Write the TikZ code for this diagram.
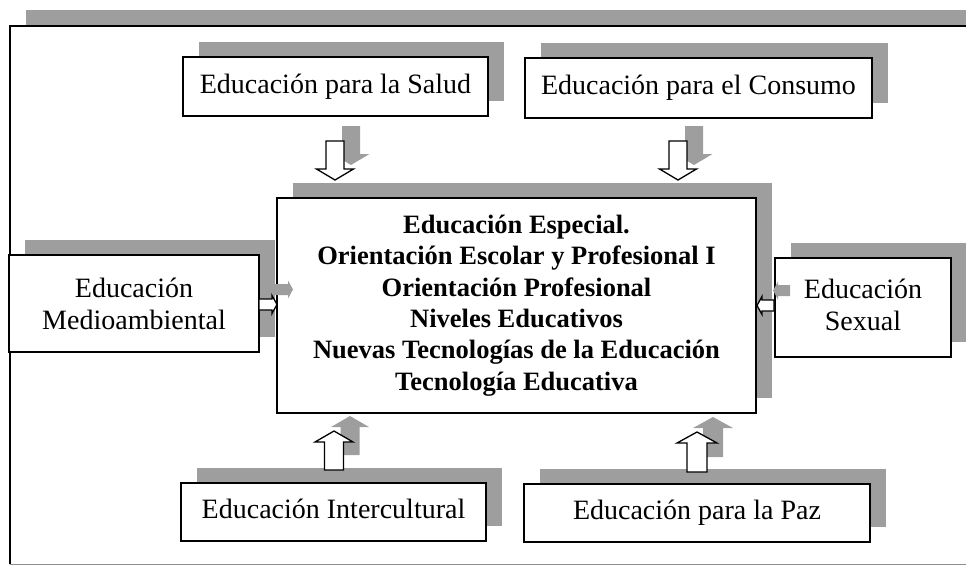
\documentclass[tikz,border=0pt]{standalone}
\usepackage{fontspec}
\setmainfont{Liberation Serif}
\usetikzlibrary{shadows}
\definecolor{shadegray}{gray}{0.62}
\tikzset{
  box/.style={draw, line width=1.3pt, fill=white, inner sep=0pt, align=center,
    font=\fontsize{28}{32}\selectfont,
    drop shadow={shadow xshift=16pt, shadow yshift=15pt, fill=shadegray, opacity=1}},
  linebox/.style={box, text height=20pt, text depth=7pt},
  fatarrow/.style={draw, line width=1.3pt, fill=white, line join=miter}
}
\begin{document}
\begin{tikzpicture}[x=1pt,y=-1pt]
  \useasboundingbox (0,0) rectangle (966,565);
  % frame
  \fill[shadegray] (26,10) rectangle (966,26);
  \draw[line width=1.5pt] (10,564) -- (10,26) -- (966,26);
  \draw[black!45, line width=0.8pt] (10,564) -- (966,564);

  \node[linebox, minimum width=305pt, minimum height=59pt] (salud) at (335.5,86.5) {Educación para la Salud};
  \node[linebox, minimum width=347pt, minimum height=60pt] (consumo) at (698.5,88) {Educación para el Consumo};
  \node[box, minimum width=250pt, minimum height=97pt] (medio) at (134,303.5) {Educación\\Medioambiental};
  \node[box, minimum width=176pt, minimum height=99pt] (sexual) at (863,307.5) {Educación\\Sexual\vphantom{p}};
  \node[linebox, minimum width=305pt, minimum height=58pt] (inter) at (333.5,512) {Educación Intercultural};
  \node[linebox, minimum width=346pt, minimum height=58pt] (paz) at (697,513) {Educación para la Paz};
  \node[box, minimum width=479pt, minimum height=215pt,
    font=\bfseries\fontsize{26.5}{31.3}\selectfont] (centro) at (516.5,305.5)
    {Educación Especial.\\Orientación Escolar y Profesional I\\Orientación Profesional\\
     Niveles Educativos\\Nuevas Tecnologías de la Educación\\Tecnología Educativa};

  % block arrows: centre, angle, length, shaft, head, head length
  \foreach \cx/\cy/\ang/\len/\sw/\hw/\hl in
    {335/160.5/-90/39/9/18.5/11, 678/160.5/-90/39/9/18.5/11,
     334/450.5/90/39/9.5/19/11, 697/452/90/40/10/20/11,
     268/304.5/0/18/5.5/9/5, 765.5/305.5/180/17/5.5/9/5}
  {
    \fill[shadegray, shift={(\cx+16,\cy-15)}, rotate=\ang]
      (-\len/2,-\sw) -- (\len/2-\hl,-\sw) -- (\len/2-\hl,-\hw) -- (\len/2,0)
      -- (\len/2-\hl,\hw) -- (\len/2-\hl,\sw) -- (-\len/2,\sw) -- cycle;
    \draw[fatarrow, shift={(\cx,\cy)}, rotate=\ang]
      (-\len/2,-\sw) -- (\len/2-\hl,-\sw) -- (\len/2-\hl,-\hw) -- (\len/2,0)
      -- (\len/2-\hl,\hw) -- (\len/2-\hl,\sw) -- (-\len/2,\sw) -- cycle;
  }
\end{tikzpicture}
\end{document}
